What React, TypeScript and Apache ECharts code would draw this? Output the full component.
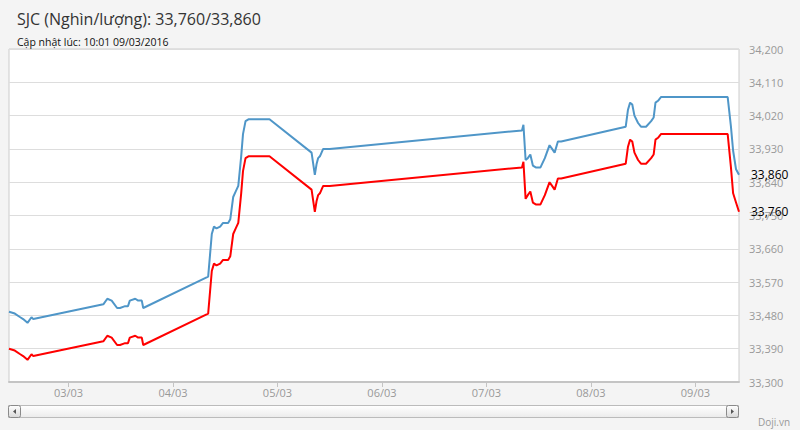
import React, { useEffect, useRef } from 'react';
import * as echarts from 'echarts';

const times: string[] = [
  '2016-03-02 10:20', '2016-03-02 11:40', '2016-03-02 12:55', '2016-03-02 13:35', '2016-03-02 14:35',
  '2016-03-02 15:30', '2016-03-02 15:55',
  '2016-03-03 08:00', '2016-03-03 08:55', '2016-03-03 09:55', '2016-03-03 11:10', '2016-03-03 11:50',
  '2016-03-03 13:00', '2016-03-03 13:40', '2016-03-03 14:05', '2016-03-03 15:20', '2016-03-03 16:00',
  '2016-03-03 16:50', '2016-03-03 17:10',
  '2016-03-04 08:05', '2016-03-04 08:55', '2016-03-04 09:25', '2016-03-04 10:00', '2016-03-04 10:50',
  '2016-03-04 11:30', '2016-03-04 12:40', '2016-03-04 13:10', '2016-03-04 13:50', '2016-03-04 14:25',
  '2016-03-04 15:00', '2016-03-04 15:40', '2016-03-04 16:05', '2016-03-04 16:40', '2016-03-04 17:20',
  '2016-03-04 22:10',
  '2016-03-05 07:50', '2016-03-05 08:35', '2016-03-05 09:00', '2016-03-05 09:20', '2016-03-05 09:45',
  '2016-03-05 10:30', '2016-03-05 12:00',
  '2016-03-07 08:10', '2016-03-07 08:30', '2016-03-07 09:00', '2016-03-07 09:30', '2016-03-07 10:05',
  '2016-03-07 10:40', '2016-03-07 11:20', '2016-03-07 12:25', '2016-03-07 13:25', '2016-03-07 14:30',
  '2016-03-07 15:05', '2016-03-07 15:40', '2016-03-07 16:25', '2016-03-07 17:10',
  '2016-03-08 08:00', '2016-03-08 08:30', '2016-03-08 09:00', '2016-03-08 09:30', '2016-03-08 10:00',
  '2016-03-08 10:50', '2016-03-08 11:30', '2016-03-08 12:40', '2016-03-08 13:50', '2016-03-08 14:25',
  '2016-03-08 14:50', '2016-03-08 15:25', '2016-03-08 16:05',
  '2016-03-09 07:25', '2016-03-09 08:10', '2016-03-09 08:40', '2016-03-09 09:20', '2016-03-09 10:01',
];

// Giá bán (blue)
const sellValues: number[] = [
  33490, 33485, 33475, 33470, 33460,
  33475, 33470,
  33510, 33525, 33520, 33500, 33500,
  33505, 33505, 33520, 33525, 33520,
  33520, 33500,
  33585, 33700, 33720, 33715, 33720,
  33730, 33730, 33740, 33800, 33815,
  33830, 33910, 33970, 34005, 34010,
  34010,
  33920, 33860, 33890, 33905, 33910,
  33930, 33930,
  33980, 33995, 33900, 33905, 33915,
  33885, 33880, 33880, 33905, 33940,
  33930, 33920, 33950, 33950,
  33990, 34035, 34055, 34050, 34020,
  34000, 33990, 33990, 34005, 34015,
  34055, 34060, 34070,
  34070, 33990, 33925, 33875, 33860,
];

// Giá mua (red)
const buyValues: number[] = [
  33390, 33385, 33375, 33370, 33360,
  33375, 33370,
  33410, 33425, 33420, 33400, 33400,
  33405, 33405, 33420, 33425, 33420,
  33420, 33400,
  33485, 33600, 33620, 33615, 33620,
  33630, 33630, 33640, 33700, 33715,
  33730, 33810, 33870, 33905, 33910,
  33910,
  33820, 33760, 33790, 33805, 33810,
  33830, 33830,
  33880, 33895, 33795, 33805, 33815,
  33785, 33780, 33780, 33805, 33840,
  33830, 33820, 33850, 33850,
  33890, 33935, 33955, 33950, 33920,
  33900, 33890, 33890, 33905, 33915,
  33955, 33960, 33970,
  33970, 33880, 33810, 33785, 33760,
];

const titleText = 'SJC (Nghìn/lượng): 33,760/33,860';
const subtitleText = 'Cập nhật lúc: 10:01 09/03/2016';
const creditText = 'Doji.vn';
const xMin = '2016-03-02 10:20';
const xMax = '2016-03-09 10:01';
const yMin = 33300;
const yMax = 34200;
const yStep = 90;

const DAY = 86400000;
const toTs = (s: string) => new Date(s.replace(' ', 'T') + ':00').getTime();
const fmt = (v: number) => Math.round(v).toLocaleString('en-US');
const pad = (n: number) => (n < 10 ? '0' + n : '' + n);

export default function App() {
  const ref = useRef<HTMLDivElement>(null);
  useEffect(() => {
    document.body.style.margin = '0';
    document.body.style.background = '#f4f4f4';
    const chart = echarts.init(ref.current!, null, { renderer: 'svg' });
    const font = 'Open Sans';
    const btnFill = new echarts.graphic.LinearGradient(0, 0, 0, 1, [
      { offset: 0, color: '#ffffff' },
      { offset: 1, color: '#d8d8d8' },
    ]);
    const trackFill = new echarts.graphic.LinearGradient(0, 0, 0, 1, [
      { offset: 0, color: '#ffffff' },
      { offset: 1, color: '#ebebeb' },
    ]);
    const endLabel = {
      show: true,
      distance: 12,
      color: '#000',
      fontSize: 12,
      fontFamily: font,
      formatter: (p: any) => fmt(p.value[1]),
    };
    chart.setOption({
      animation: false,
      backgroundColor: '#f4f4f4',
      textStyle: { fontFamily: font },
      title: [
        {
          text: titleText,
          left: 17,
          top: 11,
          padding: 0,
          textStyle: { fontSize: 16, fontWeight: 'normal', color: '#333', fontFamily: font },
        },
        {
          text: subtitleText,
          left: 17,
          top: 36,
          padding: 0,
          textStyle: { fontSize: 10.5, fontWeight: 'normal', color: '#111', fontFamily: font },
        },
      ],
      grid: {
        left: 9,
        right: 61,
        top: 49,
        bottom: 48,
        show: true,
        backgroundColor: '#ffffff',
        borderColor: '#cccccc',
        borderWidth: 1,
      },
      xAxis: {
        type: 'time',
        min: toTs(xMin),
        max: toTs(xMax),
        minInterval: DAY,
        maxInterval: DAY,
        axisLine: { lineStyle: { color: '#c4c4c4', width: 2 } },
        axisTick: { show: true, length: 5, lineStyle: { color: '#c4c4c4' } },
        splitLine: { show: false },
        axisLabel: {
          color: '#999',
          fontSize: 11,
          margin: 5,
          fontFamily: font,
          formatter: (v: number) => {
            const d = new Date(v);
            return pad(d.getDate()) + '/' + pad(d.getMonth() + 1);
          },
        },
      },
      yAxis: {
        type: 'value',
        position: 'right',
        min: yMin,
        max: yMax,
        interval: yStep,
        axisLine: { show: false },
        axisTick: { show: false },
        splitLine: { lineStyle: { color: '#dddddd', width: 1 } },
        axisLabel: {
          color: '#999',
          fontSize: 11,
          margin: 10,
          fontFamily: font,
          formatter: (v: number) => fmt(v),
        },
      },
      series: [
        {
          type: 'line',
          name: 'Bán',
          data: times.map((t, i) => [toTs(t), sellValues[i]]),
          showSymbol: false,
          symbol: 'none',
          lineStyle: { color: '#4f96c8', width: 2 },
          itemStyle: { color: '#4f96c8' },
          endLabel,
        },
        {
          type: 'line',
          name: 'Mua',
          data: times.map((t, i) => [toTs(t), buyValues[i]]),
          showSymbol: false,
          symbol: 'none',
          lineStyle: { color: '#ff0000', width: 2 },
          itemStyle: { color: '#ff0000' },
          endLabel,
        },
      ],
      graphic: [
        {
          type: 'rect',
          shape: { x: 8.5, y: 405.5, width: 730, height: 12 },
          style: { fill: trackFill, stroke: '#bbbbbb', lineWidth: 1 },
        },
        {
          type: 'rect',
          shape: { x: 8.5, y: 405.5, width: 12, height: 12, r: 2 },
          style: { fill: btnFill, stroke: '#8a8a8a', lineWidth: 1 },
        },
        {
          type: 'polygon',
          shape: { points: [[13, 411.5], [16, 409], [16, 414]] },
          style: { fill: '#555' },
        },
        {
          type: 'rect',
          shape: { x: 726.5, y: 405.5, width: 12, height: 12, r: 2 },
          style: { fill: btnFill, stroke: '#8a8a8a', lineWidth: 1 },
        },
        {
          type: 'polygon',
          shape: { points: [[731, 409], [731, 414], [734, 411.5]] },
          style: { fill: '#555' },
        },
        {
          type: 'text',
          x: 758,
          y: 417,
          style: { text: creditText, fill: '#999', fontSize: 10, fontFamily: font },
        },
      ],
    });
    return () => chart.dispose();
  }, []);
  return <div ref={ref} style={{ width: 800, height: 430 }} />;
}
